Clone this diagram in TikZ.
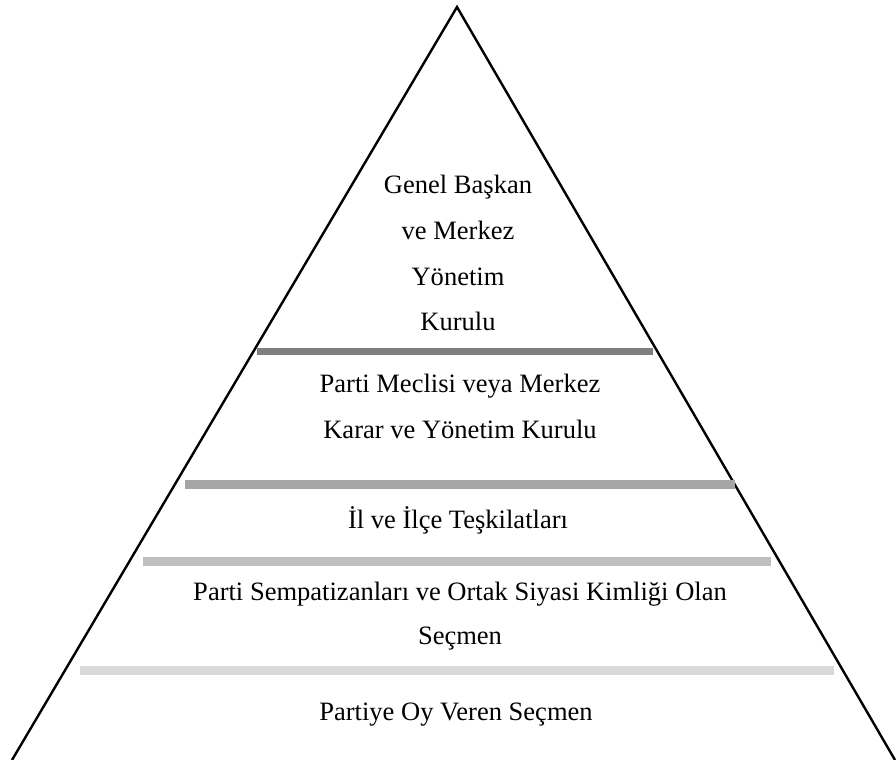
\documentclass[tikz,border=0pt]{standalone}
\usepackage{fontspec}
\setmainfont{Liberation Serif}
\definecolor{barA}{RGB}{127,127,127}
\definecolor{barB}{RGB}{165,165,165}
\definecolor{barC}{RGB}{191,191,191}
\definecolor{barD}{RGB}{217,217,217}
\begin{document}
\begin{tikzpicture}[x=0.75pt,y=-0.75pt,
  lbl/.style={anchor=base,inner sep=0pt,font=\fontsize{19.9}{24}\selectfont}]
\useasboundingbox (0,0) rectangle (896,760);
\clip (0,0) rectangle (896,760);
\fill[white] (0,0) rectangle (896,760);
\coordinate (apex) at (457,7);
\coordinate (bl) at (12,760);
\coordinate (br) at (895,760);
\draw[line width=1.8pt,line join=miter] (bl) -- (apex) -- (br);
% bars
\fill[barA] (257,348) rectangle (653,355);
\fill[barB] (185,480) rectangle (735,489);
\fill[barC] (143,557) rectangle (771,566);
\fill[barD] (80,666) rectangle (834,675);
% texts
\node[lbl] (t1a) at (458,193) {Genel Başkan};
\node[lbl] (t1b) at (458,239) {ve Merkez};
\node[lbl] (t1c) at (458,285) {Yönetim};
\node[lbl] (t1d) at (458,330) {Kurulu};
\node[lbl] (t2a) at (460,392) {Parti Meclisi veya Merkez};
\node[lbl] (t2b) at (460,438) {Karar ve Yönetim Kurulu};
\node[lbl] (t3) at (458,528) {İl ve İlçe Teşkilatları};
\node[lbl] (t4a) at (460,600) {Parti Sempatizanları ve Ortak Siyasi Kimliği Olan};
\node[lbl] (t4b) at (460,644) {Seçmen};
\node[lbl] (t5) at (456,720) {Partiye Oy Veren Seçmen};
\end{tikzpicture}
\end{document}
